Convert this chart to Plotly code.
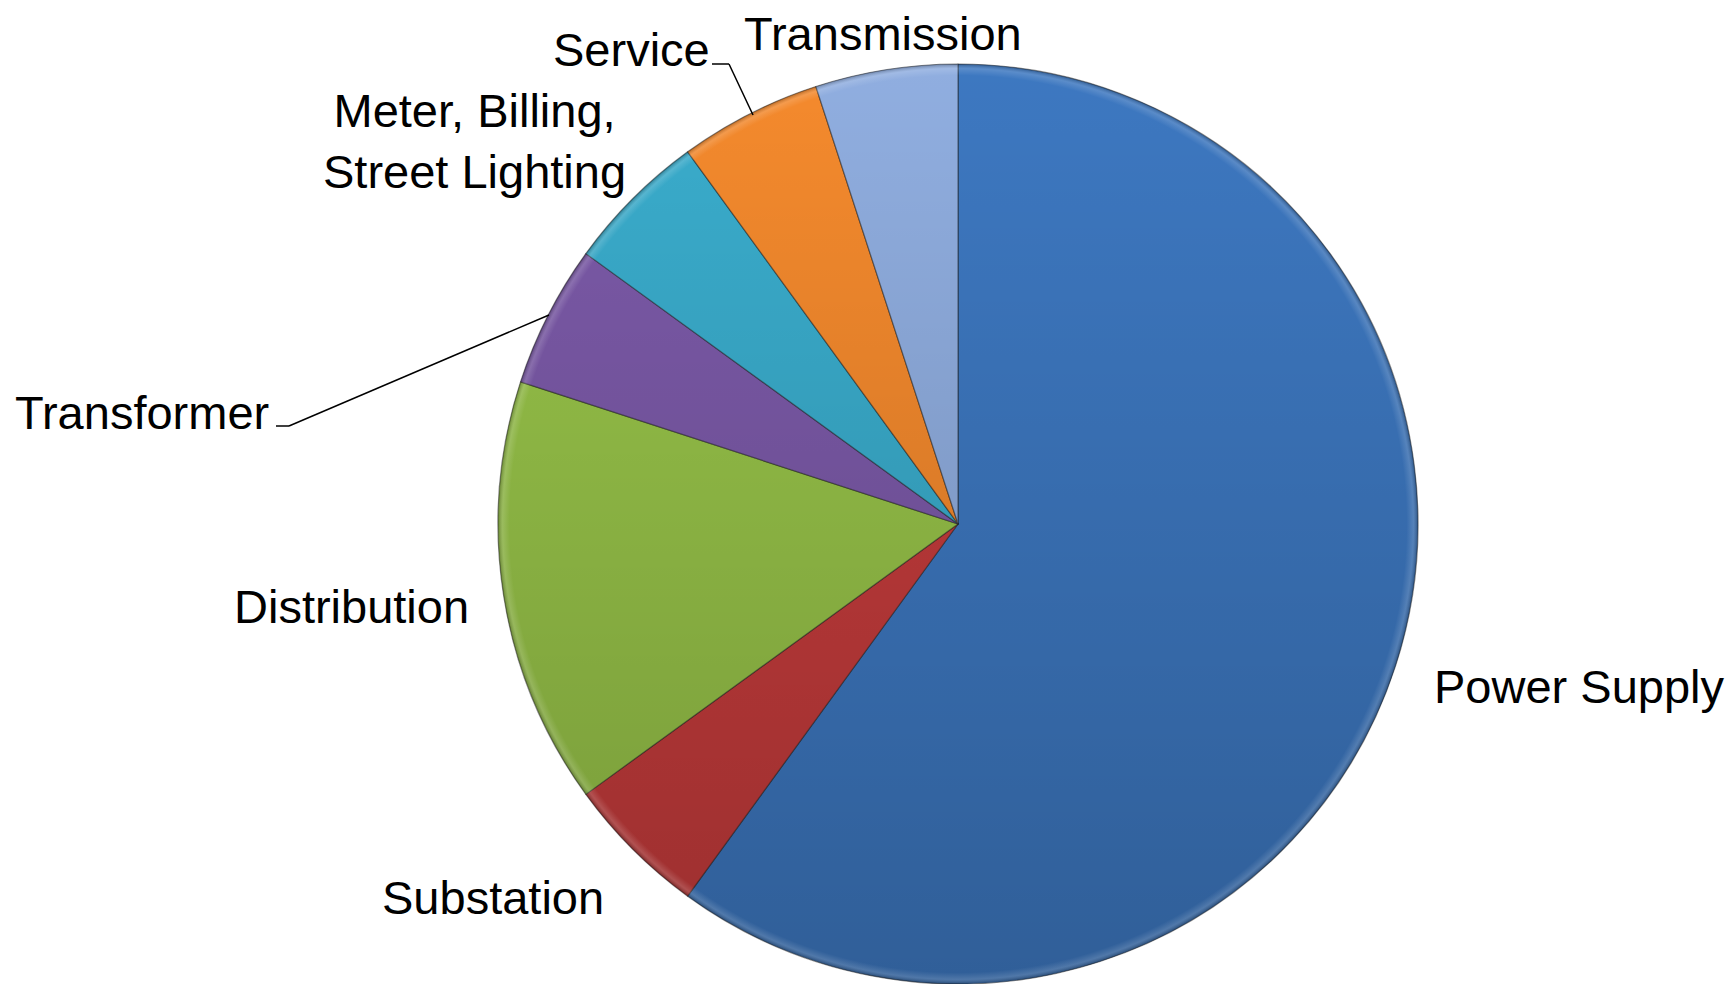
import base64
import plotly.graph_objects as go

# Cost breakdown by component (percent)
categories = ["Power Supply", "Substation", "Distribution", "Transformer",
              "Meter, Billing,<br>Street Lighting", "Service", "Transmission"]
shares = [60, 5, 15, 5, 5, 5, 5]
colors = ["#3d78c1", "#c63c3c", "#98c449", "#7c5aa9", "#3aadcd", "#f58a2d", "#90aee0"]

W, H = 1731, 984
CX, CY, R = 958, 524, 460  # pie centre and radius in pixels


def px(x):
    return x / W


def py(y):
    return 1 - y / H


fig = go.Figure(go.Pie(
    labels=categories,
    values=shares,
    sort=False,
    direction="clockwise",
    rotation=0,
    marker=dict(colors=colors, line=dict(color="rgba(30,30,30,0.5)", width=1.2)),
    textinfo="none",
    hoverinfo="skip",
    showlegend=False,
    domain=dict(x=[px(CX - R), px(CX + R)], y=[py(CY + R), py(CY - R)]),
))

# vertical shading over the disc (darker towards the bottom) plus a faint rim
svg = f"""<svg xmlns='http://www.w3.org/2000/svg' width='{2*R}' height='{2*R}' viewBox='0 0 {2*R} {2*R}'>
<defs>
<linearGradient id='g' x1='0' y1='0' x2='0' y2='1'>
<stop offset='0' stop-color='#000000' stop-opacity='0'/>
<stop offset='1' stop-color='#000000' stop-opacity='0.21'/>
</linearGradient>
<radialGradient id='rim' cx='0.5' cy='0.5' r='0.5'>
<stop offset='0.975' stop-color='#ffffff' stop-opacity='0'/>
<stop offset='0.99' stop-color='#ffffff' stop-opacity='0.15'/>
<stop offset='1' stop-color='#000000' stop-opacity='0.25'/>
</radialGradient>
</defs>
<circle cx='{R}' cy='{R}' r='{R}' fill='url(#g)'/>
<circle cx='{R}' cy='{R}' r='{R}' fill='url(#rim)'/>
</svg>"""
src = "data:image/svg+xml;base64," + base64.b64encode(svg.encode()).decode()
fig.add_layout_image(dict(
    source=src, xref="paper", yref="paper",
    x=px(CX - R), y=py(CY - R), sizex=2 * R / W, sizey=2 * R / H,
    xanchor="left", yanchor="top", sizing="stretch", layer="above",
))

font = dict(family="Arial, 'Liberation Sans', sans-serif", size=47, color="#000000")

label_pos = {
    "Power Supply": (1579, 686),
    "Substation": (493, 897),
    "Distribution": (351, 606),
    "Transformer": (142, 412),
    "Meter, Billing,<br>Street Lighting": (475, 141),
    "Service": (631, 50),
    "Transmission": (883, 33),
}
for name in categories:
    x, y = label_pos[name]
    fig.add_annotation(x=px(x), y=py(y), xref="paper", yref="paper",
                       text=name, showarrow=False, font=font,
                       xanchor="center", yanchor="middle", align="center")

# leader lines
leaders = [
    [(712, 64), (729, 64), (753, 115)],
    [(276, 426), (289, 426), (549, 315)],
]
for pts in leaders:
    for (x0, y0), (x1, y1) in zip(pts[:-1], pts[1:]):
        fig.add_shape(type="line", xref="paper", yref="paper",
                      x0=px(x0), y0=py(y0), x1=px(x1), y1=py(y1),
                      line=dict(color="#000000", width=1.5))

fig.update_layout(
    width=W, height=H,
    margin=dict(l=0, r=0, t=0, b=0),
    paper_bgcolor="#ffffff",
    plot_bgcolor="#ffffff",
)

fig.write_html("out.html")
